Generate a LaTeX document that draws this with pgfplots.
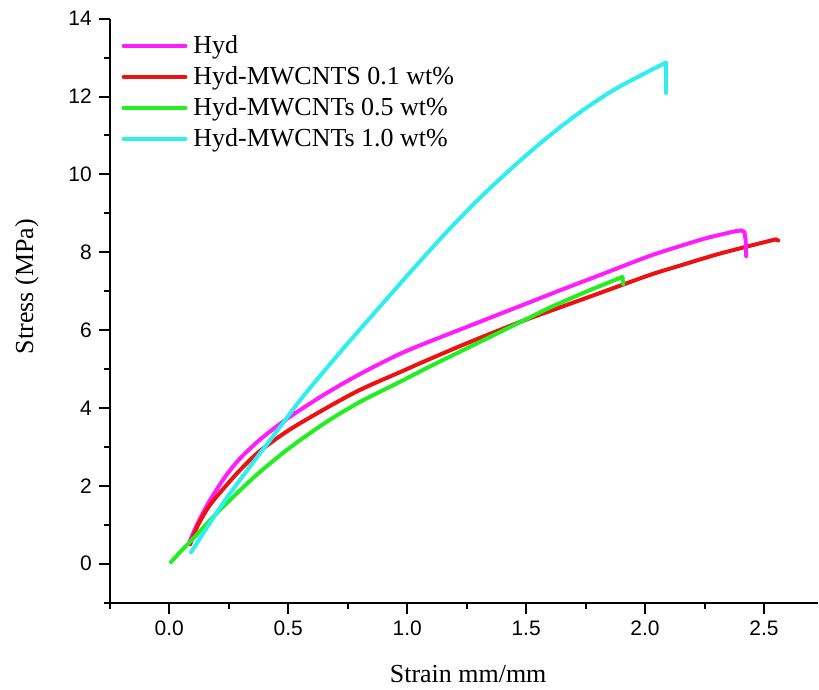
\documentclass[border=0pt]{standalone}
\usepackage{fontspec}
\setmainfont{Liberation Serif}
\newfontfamily\arialfont{Liberation Sans}
\usepackage{pgfplots}
\pgfplotsset{compat=1.18}

\definecolor{cHyd}{HTML}{FF1CFF}
\definecolor{cRed}{HTML}{EE1111}
\definecolor{cGreen}{HTML}{22EE22}
\definecolor{cCyan}{HTML}{2EEEEE}

\begin{document}
\begin{tikzpicture}
\begin{axis}[
    scale only axis,
    width=354.5pt, height=292.3pt,
    xmin=-0.25, xmax=2.727,
    ymin=-1, ymax=14,
    axis x line*=bottom, axis y line*=left,
    axis line style={line width=1pt, -},
    tick align=outside,
    xtick={0,0.5,1,1.5,2,2.5},
    minor xtick={-0.25,0.25,0.75,1.25,1.75,2.25},
    ytick={0,2,4,6,8,10,12,14},
    minor ytick={-1,1,3,5,7,9,11,13},
    major tick length=5.5pt, minor tick length=3pt,
    every tick/.style={black, line width=1pt},
    /pgf/number format/assume math mode=true,
    tick label style={font=\arialfont\fontsize{10.5}{12}\selectfont},
    xticklabel style={/pgf/number format/.cd, fixed, fixed zerofill, precision=1},
    xlabel={Strain mm/mm},
    ylabel={Stress (MPa)},
    label style={font=\fontsize{13}{15}\selectfont},
    xlabel style={at={(axis description cs:0.506,0)}, anchor=center, yshift=-36pt},
    ylabel style={at={(axis description cs:-0.117,0.541)}, anchor=center},
    legend style={draw=none, fill=none, at={(axis description cs:0.016,0.972)},
        anchor=north west, font=\fontsize{13}{15}\selectfont,
        row sep=5pt, column sep=3pt, inner sep=0pt,
        nodes={inner sep=0pt}},
    legend cell align=left,
    legend image code/.code={\draw[#1] (0pt,0pt) -- (31pt,0pt);},
    every axis plot/.append style={line width=2pt, line join=round, line cap=round},
]
% main curves (smoothed), fracture drops drawn separately
\addplot[cHyd, smooth, tension=0.5] coordinates {
(0.084,0.55) (0.12,1.05) (0.17,1.62) (0.238,2.26) (0.30,2.72) (0.378,3.17)
(0.45,3.52) (0.518,3.82) (0.65,4.34) (0.798,4.86) (0.966,5.38) (1.10,5.72)
(1.25,6.08) (1.40,6.44) (1.492,6.66) (1.65,7.04) (1.80,7.39) (2.017,7.90)
(2.143,8.15) (2.25,8.35) (2.33,8.47) (2.38,8.54) (2.405,8.56)
};
\addplot[cRed, smooth, tension=0.5] coordinates {
(0.088,0.50) (0.12,0.98) (0.17,1.50) (0.238,2.00) (0.30,2.42) (0.378,2.88)
(0.50,3.42) (0.658,3.99) (0.80,4.46) (0.966,4.91) (1.10,5.27) (1.25,5.66)
(1.40,6.03) (1.492,6.25) (1.65,6.60) (1.80,6.93) (2.017,7.41) (2.143,7.65)
(2.30,7.94) (2.45,8.18) (2.549,8.33)
};
\addplot[cGreen, smooth, tension=0.5] coordinates {
(0.007,0.04) (0.05,0.33) (0.098,0.63) (0.20,1.30) (0.30,1.90) (0.378,2.34)
(0.50,2.95) (0.658,3.63) (0.80,4.15) (0.966,4.66) (1.10,5.08) (1.247,5.52)
(1.40,5.98) (1.50,6.28) (1.60,6.58) (1.75,6.98) (1.85,7.23) (1.898,7.35)
(1.905,7.36)
};
\addplot[cCyan, smooth, tension=0.5] coordinates {
(0.091,0.29) (0.15,0.85) (0.238,1.66) (0.34,2.50) (0.448,3.37) (0.55,4.20)
(0.658,5.00) (0.77,5.80) (0.882,6.58) (1.022,7.55) (1.163,8.50) (1.303,9.38)
(1.443,10.18) (1.583,10.92) (1.723,11.58) (1.863,12.15) (2.003,12.61)
(2.087,12.87)
};
\addplot[cHyd, forget plot] coordinates {(2.405,8.56) (2.418,8.52) (2.423,8.30) (2.425,7.90)};
\addplot[cRed, forget plot] coordinates {(2.549,8.33) (2.56,8.30)};
\addplot[cGreen, forget plot] coordinates {(1.905,7.36) (1.908,7.18)};
\addplot[cCyan, forget plot] coordinates {(2.087,12.87) (2.087,12.09)};
\legend{Hyd, Hyd-MWCNTS 0.1 wt\%, Hyd-MWCNTs 0.5 wt\%, Hyd-MWCNTs 1.0 wt\%}
\coordinate (bl) at (axis description cs:-0.1551,-0.1454);
\coordinate (tr) at (axis description cs:1,1.032);
\end{axis}
\path (bl) rectangle (tr);
\end{tikzpicture}
\end{document}
